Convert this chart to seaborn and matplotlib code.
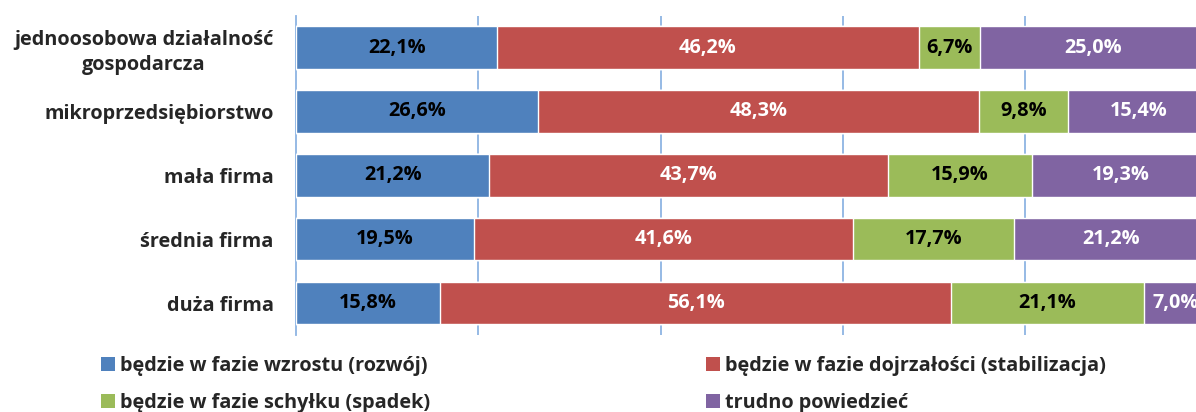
import numpy as np
import pandas as pd
import matplotlib
matplotlib.use("Agg")
import matplotlib.pyplot as plt
import seaborn as sns
from matplotlib.patches import Patch

categories = ["jednoosobowa działalność\ngospodarcza", "mikroprzedsiębiorstwo",
              "mała firma", "średnia firma", "duża firma"]
series_names = ["będzie w fazie wzrostu (rozwój)",
                "będzie w fazie dojrzałości (stabilizacja)",
                "będzie w fazie schyłku (spadek)",
                "trudno powiedzieć"]
wzrost = [22.1, 26.6, 21.2, 19.5, 15.8]
dojrzalosc = [46.2, 48.3, 43.7, 41.6, 56.1]
schylek = [6.7, 9.8, 15.9, 17.7, 21.1]
trudno = [25.0, 15.4, 19.3, 21.2, 7.0]

colors = ["#4F81BD", "#C0504D", "#9BBB59", "#8064A2"]
label_colors = ["black", "white", "black", "white"]
axis_col = "#8EB4E3"
FS = 14.3

sns.set_style("white")
plt.rcParams["font.family"] = ["Open Sans", "DejaVu Sans"]
plt.rcParams["font.weight"] = "bold"

df = pd.DataFrame({"kat": categories, series_names[0]: wzrost, series_names[1]: dojrzalosc,
                   series_names[2]: schylek, series_names[3]: trudno})
vals = df[series_names].to_numpy()
cum = vals.cumsum(axis=1)

fig = plt.figure(figsize=(11.96, 4.12), dpi=100)
ax = fig.add_axes([296 / 1196, 77 / 412, 911.5 / 1196, 319.3 / 412])

# stacked bars: draw cumulative totals from the back to the front
for i in range(3, -1, -1):
    sns.barplot(x=cum[:, i], y=df["kat"], color=colors[i], orient="h", width=0.665,
                saturation=1, ax=ax, zorder=3)

# labels in the middle of each segment
for r in range(len(categories)):
    for i in range(4):
        left = cum[r, i] - vals[r, i]
        ax.text(left + vals[r, i] / 2, r, f"{vals[r, i]:.1f}%".replace(".", ","),
                ha="center", va="center", fontsize=FS, fontweight="bold",
                color=label_colors[i], zorder=5)

ax.set_xlim(0, 100)
ax.set_ylim(4.5, -0.5)
ax.set_xticks([20, 40, 60, 80, 100])
ax.set_xticklabels([])
ax.tick_params(axis="x", length=0)
ax.grid(axis="x", color=axis_col, linewidth=1.3, zorder=0)
ax.set_axisbelow(True)
ax.set_xlabel("")
ax.set_ylabel("")

ax.set_yticks(np.arange(-0.5, 5, 1), minor=True)
ax.tick_params(axis="y", which="major", length=0, pad=16, labelsize=FS)
ax.tick_params(axis="y", which="minor", length=5, width=1.3, color=axis_col)
for lab in ax.get_yticklabels():
    lab.set_fontweight("bold")
    lab.set_multialignment("center")
    lab.set_linespacing(1.3)

for s in ["top", "right", "bottom"]:
    ax.spines[s].set_visible(False)
ax.spines["left"].set_color(axis_col)
ax.spines["left"].set_linewidth(1.3)

order = [0, 2, 1, 3]
handles = [Patch(facecolor=colors[i], edgecolor="none") for i in order]
labels = [series_names[i] for i in order]
fig.legend(handles, labels, ncol=2, loc="upper left", bbox_to_anchor=(101 / 1196, 1 - 356 / 412),
           frameon=False, handlelength=0.68, handleheight=0.68,
           handletextpad=0.28, columnspacing=13.9, labelspacing=0.85, borderaxespad=0,
           borderpad=0, prop={"weight": "bold", "size": FS})

fig.savefig("out.png", dpi=100)
